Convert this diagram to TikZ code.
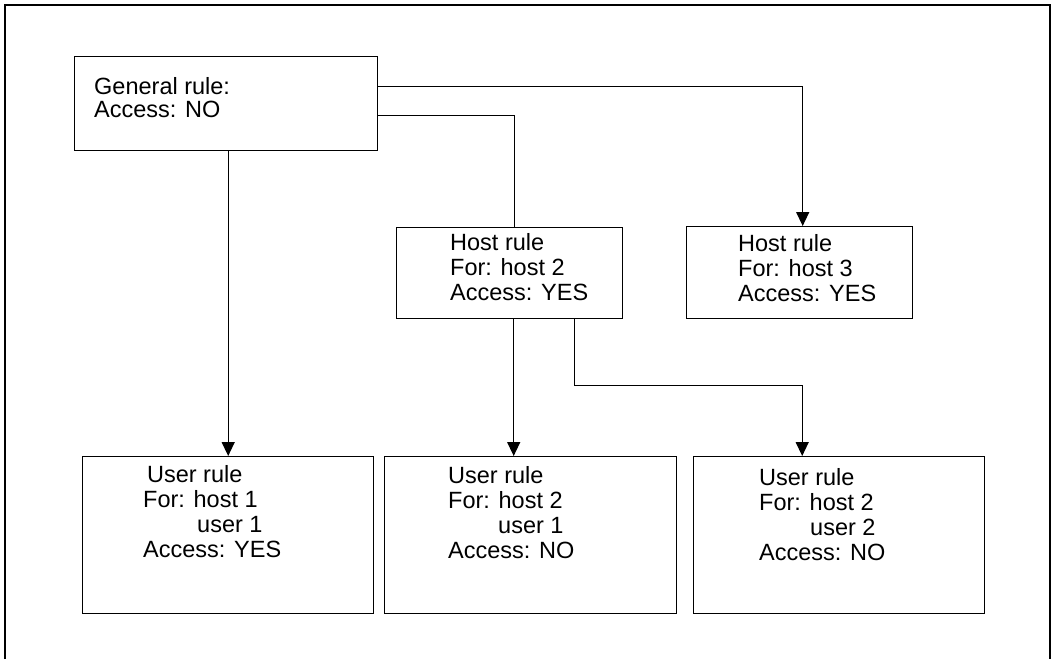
\documentclass[tikz,border=0pt]{standalone}
\usepackage{fontspec}
\setmainfont{Liberation Sans}
\usetikzlibrary{arrows.meta}

\tikzset{
  rulebox/.style={draw, line width=1.4pt, inner sep=0pt, anchor=north west},
  ruletext/.style={anchor=north west, inner sep=0pt, align=left,
    font=\fontsize{23.5}{25}\selectfont},
  arr/.style={line width=1.4pt, -{Triangle[width=13pt,length=14pt]}},
  conn/.style={line width=1.4pt}
}

\begin{document}
\begin{tikzpicture}[x=1pt,y=-1pt]
      \useasboundingbox (0,0) rectangle (1052,659);
      % frame
      \draw[conn] (5,659) -- (5,5) -- (1050,5) -- (1050,659);
      % boxes
      \node[rulebox, minimum width=303pt, minimum height=94pt] (gen) at (74,56) {};
      \node[rulebox, minimum width=226pt, minimum height=91pt] (hostb) at (396,227) {};
      \node[rulebox, minimum width=226pt, minimum height=92pt] (hostc) at (686,226) {};
      \node[rulebox, minimum width=291pt, minimum height=157pt] (usera) at (82,456) {};
      \node[rulebox, minimum width=292pt, minimum height=157pt] (userb) at (384,456) {};
      \node[rulebox, minimum width=291pt, minimum height=157pt] (userc) at (693,456) {};
      % texts
      \node[ruletext, font=\fontsize{23.5}{23}\selectfont] (gen-t) at (94,77) {General rule:\\Access: NO};
      \node[ruletext] (hostb-t) at (450,233) {Host rule\\For: host 2\\Access: YES};
      \node[ruletext] (hostc-t) at (738,234) {Host rule\\For: host 3\\Access: YES};
      \node[ruletext] (usera-t) at (143,465) {\,User rule\\For: host 1\\\hspace*{54pt}user 1\\Access: YES};
      \node[ruletext] (userb-t) at (448,466) {User rule\\For: host 2\\\hspace*{50pt}user 1\\Access: NO};
      \node[ruletext] (userc-t) at (759,468) {User rule\\For: host 2\\\hspace*{51pt}user 2\\Access: NO};
      % connectors
      \draw[arr] ([yshift=17pt]gen.east) -| ([xshift=3pt]hostc.north);
      \draw[conn] ([yshift=-12pt]gen.east) -| ([xshift=5pt]hostb.north);
      \draw[arr] (gen.south -| usera.north) -- (usera.north);
      \draw[arr] ([xshift=4pt]hostb.south) -- ([xshift=4pt]hostb.south |- userb.north);
      \draw[arr] ([xshift=65pt]hostb.south) -- ++(0,66) -| ([xshift=-37pt]userc.north);
  \end{tikzpicture}
\end{document}
